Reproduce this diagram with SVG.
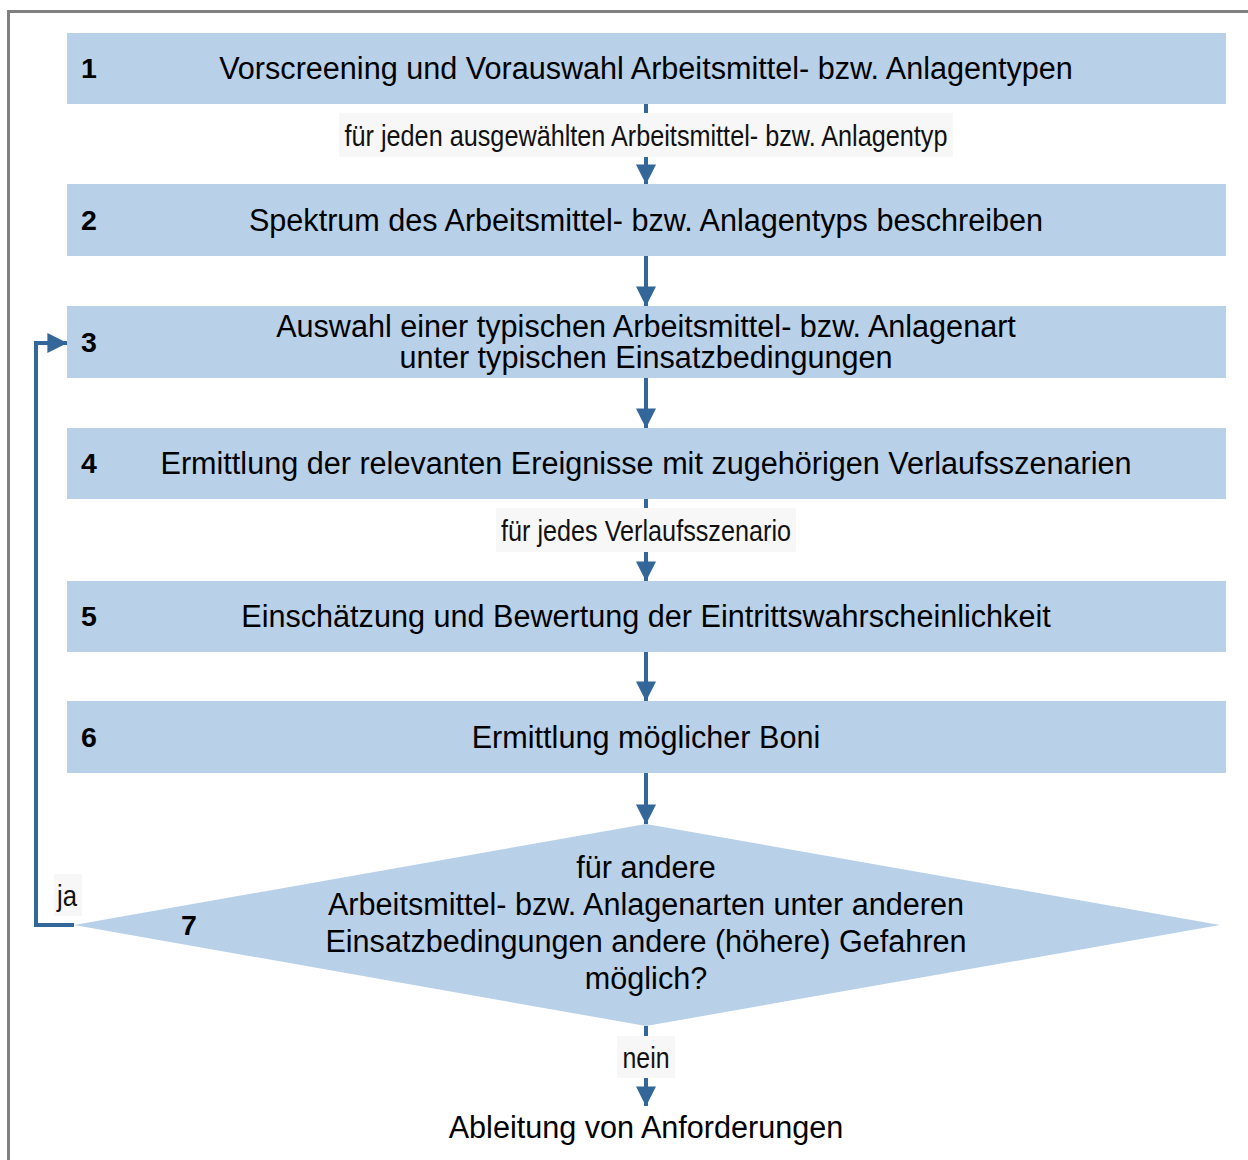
<svg xmlns="http://www.w3.org/2000/svg" width="1248" height="1160" viewBox="0 0 1248 1160">
<defs>
<style>
.box{fill:#B9D1E8}
.t{font-family:"Liberation Sans",Arial,sans-serif;font-size:30.6px;fill:#000;text-anchor:middle}
.n{font-family:"Liberation Sans",Arial,sans-serif;font-size:28.5px;font-weight:bold;fill:#000}
.lb{font-family:"Liberation Sans",Arial,sans-serif;font-size:29px;fill:#111;text-anchor:middle}
.lbg{fill:#F7F7F7}
.ln{stroke:#336699;stroke-width:4;fill:none}
</style>
<marker id="ah" markerWidth="5" markerHeight="5" refX="4.9" refY="2.5" orient="auto" markerUnits="strokeWidth">
<path d="M0,0 L5,2.5 L0,5 Z" fill="#336699"/>
</marker>
</defs>
<rect width="1248" height="1160" fill="#fff"/>
<rect x="8.5" y="11.5" width="1260" height="1170" fill="none" stroke="#808080" stroke-width="3"/>

<g id="connectors">
<line class="ln" x1="646" y1="104" x2="646" y2="113"/>
<line class="ln" x1="646" y1="157" x2="646" y2="184" marker-end="url(#ah)"/>
<line class="ln" x1="646" y1="256" x2="646" y2="306" marker-end="url(#ah)"/>
<line class="ln" x1="646" y1="378" x2="646" y2="428" marker-end="url(#ah)"/>
<line class="ln" x1="646" y1="499" x2="646" y2="508"/>
<line class="ln" x1="646" y1="552" x2="646" y2="581" marker-end="url(#ah)"/>
<line class="ln" x1="646" y1="652" x2="646" y2="701" marker-end="url(#ah)"/>
<line class="ln" x1="646" y1="773" x2="646" y2="824" marker-end="url(#ah)"/>
<line class="ln" x1="646" y1="1026" x2="646" y2="1036"/>
<line class="ln" x1="646" y1="1078" x2="646" y2="1106" marker-end="url(#ah)"/>
<polyline class="ln" points="74,925 36,925 36,343 67,343" marker-end="url(#ah)"/>
<g id="lbl1"><rect class="lbg" x="339" y="113" width="614" height="44"/><text class="lb" x="646" y="146" textLength="603" lengthAdjust="spacingAndGlyphs">für jeden ausgewählten Arbeitsmittel- bzw. Anlagentyp</text></g>
<g id="lbl2"><rect class="lbg" x="496" y="508" width="300" height="44"/><text class="lb" x="646" y="541" textLength="290" lengthAdjust="spacingAndGlyphs">für jedes Verlaufsszenario</text></g>
<g id="lbl3"><rect class="lbg" x="54" y="874" width="28" height="42"/><text class="lb" x="67" y="906" textLength="20" lengthAdjust="spacingAndGlyphs">ja</text></g>
<g id="lbl4"><rect class="lbg" x="617" y="1036" width="58" height="42"/><text class="lb" x="646" y="1068" textLength="47" lengthAdjust="spacingAndGlyphs">nein</text></g>
</g>

<g id="n1"><rect class="box" x="67" y="33" width="1159" height="71"/><text class="n" x="81" y="78">1</text><text class="t" x="646" y="79">Vorscreening und Vorauswahl Arbeitsmittel- bzw. Anlagentypen</text></g>
<g id="n2"><rect class="box" x="67" y="184" width="1159" height="72"/><text class="n" x="81" y="230">2</text><text class="t" x="646" y="231">Spektrum des Arbeitsmittel- bzw. Anlagentyps beschreiben</text></g>
<g id="n3"><rect class="box" x="67" y="306" width="1159" height="72"/><text class="n" x="81" y="352">3</text><text class="t" x="646" y="337">Auswahl einer typischen Arbeitsmittel- bzw. Anlagenart</text><text class="t" x="646" y="368">unter typischen Einsatzbedingungen</text></g>
<g id="n4"><rect class="box" x="67" y="428" width="1159" height="71"/><text class="n" x="81" y="473">4</text><text class="t" x="646" y="474">Ermittlung der relevanten Ereignisse mit zugehörigen Verlaufsszenarien</text></g>
<g id="n5"><rect class="box" x="67" y="581" width="1159" height="71"/><text class="n" x="81" y="626">5</text><text class="t" x="646" y="627">Einschätzung und Bewertung der Eintrittswahrscheinlichkeit</text></g>
<g id="n6"><rect class="box" x="67" y="701" width="1159" height="72"/><text class="n" x="81" y="747">6</text><text class="t" x="646" y="748">Ermittlung möglicher Boni</text></g>
<g id="n7"><polygon class="box" points="646,824 1220,925 646,1026 74,925"/><text class="n" x="181" y="935">7</text>
<text class="t" x="646" y="878">für andere</text>
<text class="t" x="646" y="915">Arbeitsmittel- bzw. Anlagenarten unter anderen</text>
<text class="t" x="646" y="952">Einsatzbedingungen andere (höhere) Gefahren</text>
<text class="t" x="646" y="989">möglich?</text></g>
<g id="n8"><text class="t" x="646" y="1138">Ableitung von Anforderungen</text></g>
</svg>
